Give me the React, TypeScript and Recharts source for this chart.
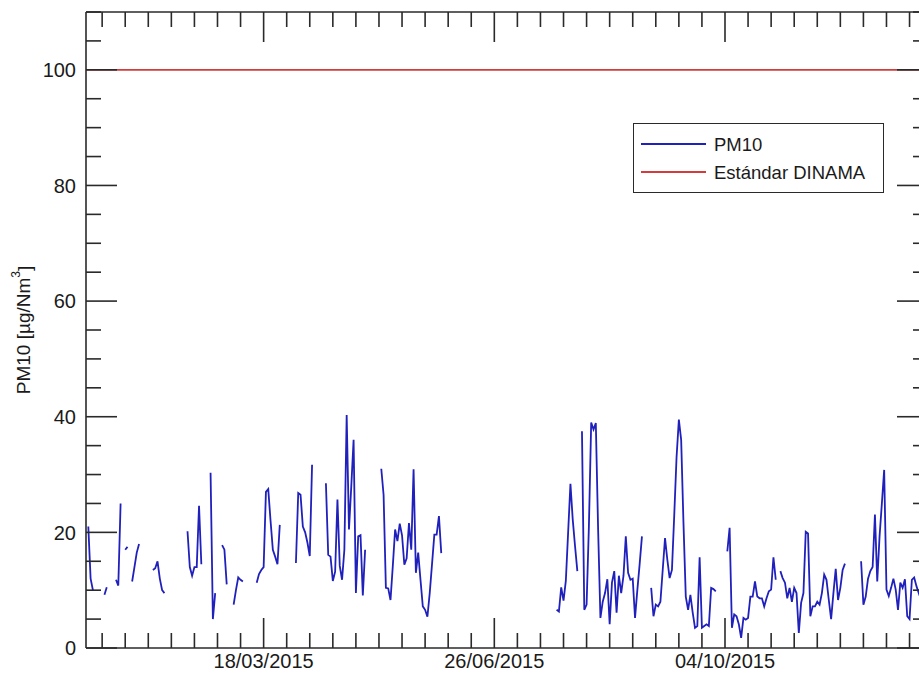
import React from 'react';
import { LineChart, Line, XAxis, YAxis, ReferenceLine, Legend } from 'recharts';

const N = null;

// Daily PM10 values (µg/Nm³) for 2015, one array per month, null = no data
const pm10Jan = [21, 12, 10, N, N, N, N, 9.2, 10.5, N, N, N, 11.8, 10.8, 25, N, 17, 17.5, N, 11.5, 14, 16.5, 18, N, N, N, N, N, 13.5, 13.8, 15];
const pm10Feb = [12, 10, 9.5, N, N, N, N, N, N, N, N, N, 20.2, 14, 12.5, 14, 14, 24.6, 14.5, N, N, N, 30.3, 5, 9.5, N, N, 17.8];
const pm10Mar = [17, 11, N, N, 7.5, 10, 12.2, 11.8, 11.5, N, N, N, N, N, 11.3, 12.8, 13.5, 14, 27, 27.5, 22, 17, 15.8, 14.5, 21.3, N, N, N, N, N, N];
const pm10Apr = [14.7, 26.8, 26.5, 21, 20, 18.2, 15.9, 31.7, N, N, N, N, N, 28.5, 16.1, 15.8, 11.6, 13.2, 25.7, 14.2, 11.8, 17, 40.3, 20.5, 28, 36, 9.5, 19.3, 19.5, 9.1];
const pm10May = [17, N, N, N, N, N, N, 31, 26.5, 10.4, 10.3, 8.3, 14.2, 20.5, 18.5, 21.5, 19.5, 14.4, 15.5, 21.6, 17, 30.9, 13, 16.5, 11.8, 7.2, 6.6, 5.4, 9.5, 14.5, 19.6];
const pm10Jun = [19.6, 22.8, 16.4, N, N, N, N, N, N, N, N, N, N, N, N, N, N, N, N, N, N, N, N, N, N, N, N, N, N, N];
const pm10Jul = [N, N, N, N, N, N, N, N, N, N, N, N, N, N, N, N, N, N, N, N, N, N, 6.6, 6.3, 10.5, 8.2, 11.6, 20, 28.4, 22.2, 17.6];
const pm10Aug = [13.3, N, 37.5, 6.6, 7.5, 21, 39, 37.8, 38.9, 20.5, 5.2, 8, 9.5, 11.9, 4.1, 11.3, 13.3, 6.1, 12.5, 9.5, 12.5, 19.3, 13, 11.8, 12, 5.2, 10, 14.5, 19.3, N, N];
const pm10Sep = [N, 10.4, 5.5, 7.5, 7.2, 8, 13.5, 19, 15.3, 12.1, 13.5, 23, 33, 39.5, 36, 21.6, 8.9, 6.6, 9.2, 6.1, 3.5, 3.8, 15.7, 3.5, 3.8, 4.1, 3.8, 10.4, 10.2, 9.8];
const pm10Oct = [N, N, N, N, 16.7, 20.8, 3.5, 5.8, 5.5, 4.1, 1.75, 5.2, 4.9, 5.2, 8.9, 8.9, 11.5, 8.9, 8.6, 8.6, 7.2, 8.6, 9.8, 10.1, 15.7, 11.8, N, 13.3, 12.1, 11.3, 8.6];
const pm10Nov = [10.4, 8, 10.4, 9.5, 2.6, 7.8, 9.5, 20.1, 19.8, 5.5, 7.2, 7.2, 8, 7.5, 9.5, 12.7, 11.8, 8.3, 5, 9.5, 13.7, 8.3, 10.4, 13.5, 14.6, N, N, N, N, N];
const pm10Dec = [N, 15, 7.5, 8.9, 12, 13.3, 14, 23.1, 11.5, 19.3, 25, 30.8, 10.1, 9, 10.4, 12, 10.1, 6.6, 11.3, 10.4, 11.9, 5.5, 5, 11.8, 12.2, 10.7, 9.5, 11, 8.5, 10, 9];

const standardValue = 100;

// Axis ticks (x in days since 01/01/2015)
const xMinorTicks = [6, 16, 26, 36, 46, 56, 66, 76, 86, 96, 106, 116, 126, 136, 146, 156, 166, 176, 186, 196, 206, 216, 226, 236, 246, 256, 266, 276, 286, 296, 306, 316, 326, 336, 346, 356];
const xMajorDays = [76, 176, 276];
const xMajorLabels = ['18/03/2015', '26/06/2015', '04/10/2015'];
const yTicks = [0, 5, 10, 15, 20, 25, 30, 35, 40, 45, 50, 55, 60, 65, 70, 75, 80, 85, 90, 95, 100, 105, 110];
const yLabels = [0, 20, 40, 60, 80, 100];

const pm10All = [
  ...pm10Jan, ...pm10Feb, ...pm10Mar, ...pm10Apr, ...pm10May, ...pm10Jun,
  ...pm10Jul, ...pm10Aug, ...pm10Sep, ...pm10Oct, ...pm10Nov, ...pm10Dec,
];
const data = pm10All.map((v, i) => ({ day: i, pm10: v }));

const FONT = '"Liberation Sans", Arial, Helvetica, sans-serif';
const AX = '#2a2a2a';
const BLUE = '#2020bc';
const RED = '#d23c3c';
const TXT = '#1a1a1a';

function XTick(props: any) {
  const { x, y, payload, top } = props;
  const d = payload.value;
  const i = xMajorDays.indexOf(d);
  const len = i >= 0 ? 30 : 15;
  const dir = top ? 1 : -1;
  return (
    <g>
      <line x1={x} x2={x} y1={y} y2={y + dir * len} stroke={AX} strokeWidth={1.6} />
      {!top && i >= 0 && (
        <text x={x} y={y + 20} textAnchor="middle" fontSize={20} fontFamily={FONT} fill={TXT}>
          {xMajorLabels[i]}
        </text>
      )}
    </g>
  );
}

function YTick(props: any) {
  const { x, y, payload, right } = props;
  const v = payload.value;
  const major = yLabels.indexOf(v) >= 0;
  const len = major ? 31 : 15;
  const dir = right ? -1 : 1;
  return (
    <g>
      <line x1={x} x2={x + dir * len} y1={y} y2={y} stroke={AX} strokeWidth={1.6} />
      {!right && major && (
        <text x={x - 10} y={y} dy="0.36em" textAnchor="end" fontSize={20} fontFamily={FONT} fill={TXT}>
          {v}
        </text>
      )}
    </g>
  );
}

function LegendBox() {
  return (
    <div
      style={{
        width: 251,
        height: 70,
        boxSizing: 'border-box',
        border: `1.5px solid ${AX}`,
        background: '#fff',
        position: 'relative',
        fontFamily: FONT,
        fontSize: 18.5,
        color: TXT,
      }}
    >
      <svg width={251} height={70} style={{ position: 'absolute', left: -1.5, top: -1.5 }}>
        <line x1={8} x2={73} y1={21} y2={21} stroke={BLUE} strokeWidth={2} />
        <line x1={8} x2={73} y1={49} y2={49} stroke={RED} strokeWidth={2} />
        <text x={81} y={21} dy="0.36em" fontSize={18.5} fontFamily={FONT} fill={TXT}>PM10</text>
        <text x={81} y={49} dy="0.36em" fontSize={18.5} fontFamily={FONT} fill={TXT}>Estándar DINAMA</text>
      </svg>
    </div>
  );
}

function YAxisTitle() {
  return (
    <text
      x={23.5}
      y={330}
      transform="rotate(-90, 23.5, 330)"
      textAnchor="middle"
      dominantBaseline="central"
      fontSize={19}
      fontFamily={FONT}
      fill={TXT}
    >
      PM10 [µg/Nm<tspan dy={-8} fontSize={12}>3</tspan><tspan dy={8}>]</tspan>
    </text>
  );
}

export default function App() {
  return (
    <div style={{ position: 'absolute', left: 0, top: 0, width: 919, height: 674, overflow: 'hidden', background: '#fff' }}>
      <LineChart width={940} height={674} data={data} margin={{ top: 0, right: 0, bottom: 0, left: 0 }}>
        <ReferenceLine y={standardValue} stroke={RED} strokeWidth={1.8} />
        <Line
          type="linear"
          dataKey="pm10"
          stroke={BLUE}
          strokeWidth={1.8}
          dot={false}
          activeDot={false}
          connectNulls={false}
          isAnimationActive={false}
        />
        <XAxis
          dataKey="day"
          type="number"
          domain={[-1, 364]}
          allowDataOverflow
          ticks={xMinorTicks}
          interval={0}
          height={26}
          tickSize={0}
          tickMargin={0}
          tickLine={false}
          axisLine={{ stroke: AX, strokeWidth: 1.6 }}
          tick={(p: any) => <XTick {...p} top={false} />}
        />
        <XAxis
          xAxisId="top"
          orientation="top"
          dataKey="day"
          type="number"
          domain={[-1, 364]}
          allowDataOverflow
          ticks={xMinorTicks}
          interval={0}
          height={12}
          tickSize={0}
          tickMargin={0}
          tickLine={false}
          axisLine={{ stroke: AX, strokeWidth: 1.6 }}
          tick={(p: any) => <XTick {...p} top={true} />}
        />
        <YAxis
          type="number"
          domain={[0, 110]}
          allowDataOverflow
          ticks={yTicks}
          interval={0}
          width={86}
          tickSize={0}
          tickMargin={0}
          tickLine={false}
          axisLine={{ stroke: AX, strokeWidth: 1.6 }}
          tick={(p: any) => <YTick {...p} right={false} />}
          label={{ content: () => <YAxisTitle /> }}
        />
        <YAxis
          yAxisId="right"
          orientation="right"
          type="number"
          domain={[0, 110]}
          allowDataOverflow
          ticks={yTicks}
          interval={0}
          width={12}
          tickSize={0}
          tickMargin={0}
          tickLine={false}
          axisLine={{ stroke: AX, strokeWidth: 1.6 }}
          tick={(p: any) => <YTick {...p} right={true} />}
        />
        <Legend
          layout="horizontal"
          verticalAlign="middle"
          align="center"
          wrapperStyle={{ left: 633, top: 123, width: 251, height: 70 }}
          content={() => <LegendBox />}
        />
      </LineChart>
    </div>
  );
}
